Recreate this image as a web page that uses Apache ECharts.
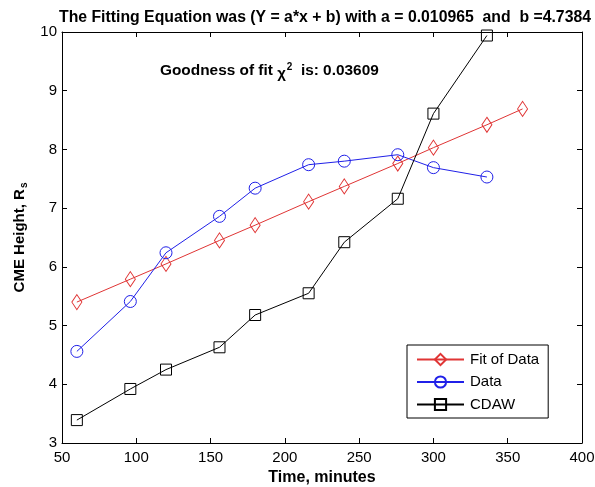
<!DOCTYPE html>
<html>
<head>
<meta charset="utf-8">
<script src="https://cdn.jsdelivr.net/npm/echarts@6/dist/echarts.min.js"></script>
<style>
html,body{margin:0;padding:0;background:#fff;}
#c{width:595px;height:487px;}
</style>
</head>
<body>
<div id="c"></div>
<script>
const times = [60, 96, 120, 156, 180, 216, 240, 276, 300, 336, 360];
const fitValues = [5.40, 5.79, 6.05, 6.45, 6.71, 7.11, 7.37, 7.76, 8.03, 8.42, 8.69];
const dataTimes = [60, 96, 120, 156, 180, 216, 240, 276, 300, 336];
const dataValues = [4.56, 5.41, 6.24, 6.86, 7.34, 7.74, 7.80, 7.91, 7.69, 7.53];
const cdawTimes = [60, 96, 120, 156, 180, 216, 240, 276, 300, 336];
const cdawValues = [3.39, 3.92, 4.25, 4.63, 5.18, 5.55, 6.42, 7.16, 8.61, 9.94];
const xTicks = [50, 400, 50];
const yTicks = [3, 10, 1];

const FONT = '"Liberation Sans", Arial, Helvetica, sans-serif';
const pair = (xs, ys) => xs.map((x, i) => [x, ys[i]]);

const chart = echarts.init(document.getElementById('c'), null, {renderer: 'canvas'});
const axisCommon = {
  axisLine: {show: true, onZero: false, lineStyle: {color: '#000', width: 1}},
  axisTick: {show: true, inside: true, length: 5, lineStyle: {color: '#000'}},
  splitLine: {show: false},
};
chart.setOption({
  backgroundColor: '#fff',
  animation: false,
  title: {
    text: 'The Fitting Equation was (Y = a*x + b) with a = 0.010965  and  b =4.7384',
    left: 320, textAlign: 'center', top: 5,
    textStyle: {fontFamily: FONT, fontWeight: 'bold', fontSize: 15.8, color: '#000'}
  },
  grid: {left: 62, right: 13, top: 32, bottom: 44, containLabel: false, outerBoundsMode: 'none'},
  legend: {
    orient: 'vertical', left: 407, top: 345,
    width: 141,
    borderColor: '#000', borderWidth: 1, padding: [7, 9, 6, 9],
    itemWidth: 47, itemHeight: 14, itemGap: 7.5,
    backgroundColor: '#fff',
    textStyle: {fontFamily: FONT, fontSize: 15, color: '#000', padding: [0, 0, 0, 1]},
    data: ['Fit of Data', 'Data', 'CDAW']
  },
  xAxis: [
    Object.assign({}, axisCommon, {
      type: 'value', min: xTicks[0], max: xTicks[1], interval: xTicks[2], position: 'bottom',
      name: 'Time, minutes', nameLocation: 'middle', nameGap: 25,
      nameTextStyle: {fontFamily: FONT, fontWeight: 'bold', fontSize: 16, color: '#000'},
      axisLabel: {fontFamily: FONT, fontSize: 15, color: '#000', margin: 7}
    }),
    Object.assign({}, axisCommon, {
      type: 'value', min: xTicks[0], max: xTicks[1], interval: xTicks[2], position: 'top',
      axisLabel: {show: false}
    })
  ],
  yAxis: [
    Object.assign({}, axisCommon, {
      type: 'value', min: yTicks[0], max: yTicks[1], interval: yTicks[2], position: 'left',
      name: '{b|CME Height, R}{s|s}', nameLocation: 'middle', nameGap: 33, nameRotate: 90,
      nameTextStyle: {
        rich: {
          b: {fontFamily: FONT, fontWeight: 'bold', fontSize: 15, color: '#000', lineHeight: 18, verticalAlign: 'middle'},
          s: {fontFamily: FONT, fontWeight: 'bold', fontSize: 10, color: '#000', lineHeight: 10, verticalAlign: 'middle', padding: [8, 0, 0, 1]}
        }
      },
      axisLabel: {fontFamily: FONT, fontSize: 15, color: '#000', margin: 5}
    }),
    Object.assign({}, axisCommon, {
      type: 'value', min: yTicks[0], max: yTicks[1], interval: yTicks[2], position: 'right',
      axisLabel: {show: false}
    })
  ],
  graphic: [{
    type: 'text', left: 160, top: 62,
    style: {
      text: '{t|Goodness of fit }{c|χ}{p|2}{t|  is: 0.03609}',
      rich: {
        t: {fontFamily: FONT, fontWeight: 'bold', fontSize: 15.4, fill: '#000'},
        c: {fontFamily: FONT, fontWeight: 'bold', fontSize: 15, fill: '#000', padding: [5, 0, 0, 0]},
        p: {fontFamily: FONT, fontWeight: 'bold', fontSize: 10, fill: '#000', padding: [0, 0, 8, 1]}
      }
    }
  }],
  series: [
    {
      name: 'Fit of Data', type: 'line', data: pair(times, fitValues),
      color: '#e03535',
      lineStyle: {color: '#e03535', width: 1},
      symbol: 'diamond', symbolSize: [10, 15],
      itemStyle: {color: 'rgba(255,255,255,0)', borderColor: '#e03535', borderWidth: 1},
      z: 3
    },
    {
      name: 'Data', type: 'line', data: pair(dataTimes, dataValues),
      color: '#2020e8',
      lineStyle: {color: '#2020e8', width: 1},
      symbol: 'circle', symbolSize: 12,
      itemStyle: {color: 'rgba(255,255,255,0)', borderColor: '#2020e8', borderWidth: 1},
      z: 4
    },
    {
      name: 'CDAW', type: 'line', data: pair(cdawTimes, cdawValues),
      color: '#000',
      lineStyle: {color: '#000', width: 1},
      symbol: 'rect', symbolSize: 11,
      itemStyle: {color: 'rgba(255,255,255,0)', borderColor: '#000', borderWidth: 1},
      z: 5
    }
  ]
});
</script>
</body>
</html>
